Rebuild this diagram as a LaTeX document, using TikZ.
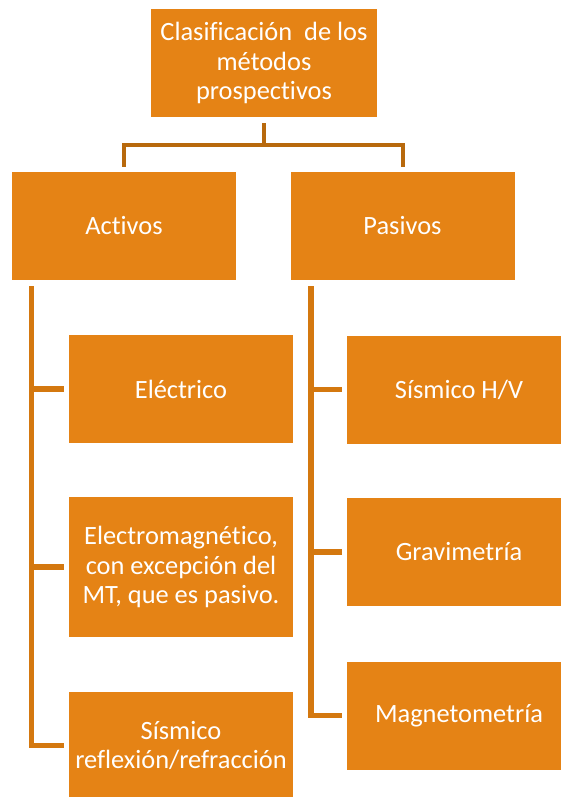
\documentclass[tikz,border=0pt]{standalone}
\usepackage{fontspec}
\setmainfont{Carlito}[Ligatures=NoCommon]
\definecolor{naranja}{HTML}{E58315}
\definecolor{lineaclara}{HTML}{D4780F}
\definecolor{lineaoscura}{HTML}{B8690D}
\begin{document}
\begin{tikzpicture}[x=0.75pt,y=-0.75pt,
  caja/.style={fill=naranja,text=white,align=center,inner sep=0pt,
    minimum width=168pt,minimum height=81pt,font=\fontsize{19.8}{22.2}\selectfont},
  tronco/.style={draw=lineaoscura,line width=3pt,shorten <=4.5pt,shorten >=3.75pt},
  rama/.style={draw=lineaclara,line width=4pt,shorten >=3.75pt}]
\clip (0,0) rectangle (561,797);
\node[caja,minimum width=169.5pt] (clas) at (264,63) {Clasificación ~de los\\métodos\\prospectivos};
\node[caja] (act) at (124,226) {Activos};
\node[caja] (pas) at (402.5,226) {Pasivos};
% activos
\node[caja] (ele) at (181,389) {Eléctrico};
\node[caja,minimum height=105pt] (emag) at (181,567) {Electromagnético,\\con excepción del\\MT, que es pasivo.};
\node[caja] (sref) at (181,745.5) {Sísmico\\reflexión/refracción};
% pasivos
\node[caja] (shv) at (459,389.5) {Sísmico H/V};
\node[caja] (grav) at (459,552) {Gravimetría};
\node[caja] (mag) at (459,715.5) {Magnetometría};
\draw[tronco] (clas.south) -- ++(0,28) -| (act.north);
\draw[tronco] (clas.south) -- ++(0,28) -| (pas.north);
\foreach \hijo in {ele,emag,sref}
  \draw[rama] ([xshift=15pt,yshift=-4.5pt]act.south west) |- (\hijo.west);
\foreach \hijo in {shv,grav,mag}
  \draw[rama] ([xshift=15.5pt,yshift=-4.5pt]pas.south west) |- (\hijo.west);
\end{tikzpicture}
\end{document}
